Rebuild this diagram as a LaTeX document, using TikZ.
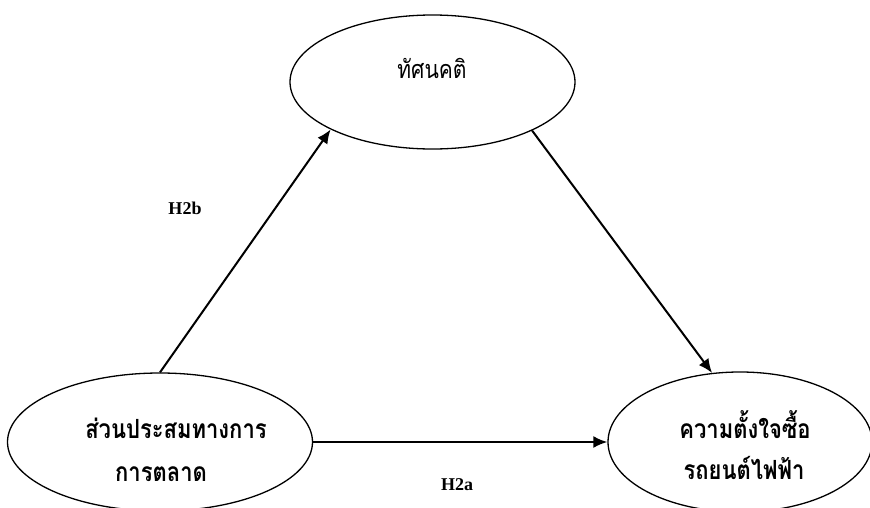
\documentclass[tikz,border=0pt]{standalone}
\usepackage{fontspec}
\setmainfont{Liberation Serif}
\newfontfamily\thaifont[Script=Thai]{Loma}
\usetikzlibrary{shapes.geometric,arrows.meta}
\newcommand{\tallthai}[1]{\scalebox{1}[1.2]{#1}}
\tikzset{
  construct/.style={draw=black, line width=1.3pt, ellipse, inner sep=0pt},
  thailabel/.style={font=\thaifont\bfseries\fontsize{22}{26}\selectfont, inner sep=0pt},
  thaitop/.style={font=\thaifont\fontsize{21}{26}\selectfont, inner sep=0pt},
  hyplabel/.style={font=\bfseries\fontsize{18}{20}\selectfont, inner sep=0pt},
  path/.style={line width=2pt, -{Latex[length=14pt,width=12pt]}}
}
\begin{document}
\begin{tikzpicture}[x=1pt,y=-1pt]
\useasboundingbox (0,0) rectangle (870,507);
\clip (0,0) rectangle (870,507);
\fill[white] (0,0) rectangle (870,507);

% constructs
\node[construct, minimum width=285pt, minimum height=134pt] (att) at (432.5,82) {};
\node[construct, minimum width=305pt, minimum height=138pt] (mix) at (160,442) {};
\node[construct, minimum width=264pt, minimum height=140pt] (pi) at (740,442) {};

% construct names
\node[thaitop] (attT) at (432,68) {\tallthai{ทัศนคติ}};
\node[thailabel] (mixT1) at (176,428) {\tallthai{ส่วนประสมทางการ}};
\node[thailabel] (mixT2) at (161,474) {\tallthai{การตลาด}};
\node[thailabel] (piT1) at (745,425) {\tallthai{ความตั้งใจซื้อ}};
\node[thailabel] (piT2) at (744,468) {\tallthai{รถยนต์ไฟฟ้า}};

% hypothesised paths
\draw[path] (mix.north) -- (att.205.5);
\draw[path] (att.334) -- (pi.112);
\draw[path] (mix.east) -- (pi.west);

% path labels
\node[hyplabel] (h2b) at (185,208) {H2b};
\node[hyplabel] (h2a) at (457,485) {H2a};
\end{tikzpicture}
\end{document}
